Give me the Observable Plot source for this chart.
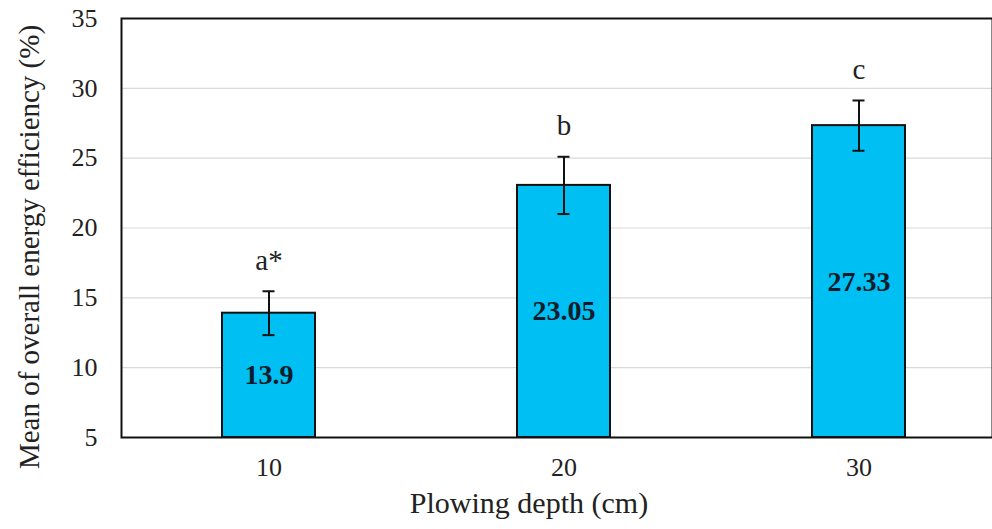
<!DOCTYPE html>
<html>
<head>
<meta charset="utf-8">
<script src="https://cdn.jsdelivr.net/npm/d3@7"></script>
<script src="https://cdn.jsdelivr.net/npm/@observablehq/plot@0.6"></script>
<style>
  html, body { margin: 0; padding: 0; background: #fff; }
  #chart svg { display: block; }
</style>
</head>
<body>
<div id="chart"></div>
<script>
const depths = ["10", "20", "30"];
const means = [13.9, 23.05, 27.33];
const errors = [1.57, 2.05, 1.8];
const letters = ["a*", "b", "c"];
const valueLabels = ["13.9", "23.05", "27.33"];
const yTicks = [5, 10, 15, 20, 25, 30, 35];
const yLabel = "Mean of overall energy efficiency (%)";
const xLabel = "Plowing depth (cm)";

const base = 5;
const data = depths.map((d, i) => ({
  depth: d,
  mean: means[i],
  lo: means[i] - errors[i],
  hi: means[i] + errors[i],
  letter: letters[i],
  label: valueLabels[i],
  mid: (base + means[i]) / 2,
  letterY: means[i] + errors[i] + 2.2
}));

const font = "'Liberation Serif', 'Times New Roman', serif";

const chart = Plot.plot({
  width: 992,
  height: 529,
  marginLeft: 121,
  marginRight: 0,
  marginTop: 18,
  marginBottom: 92,
  style: { fontFamily: font, fontSize: "26px", color: "#222", background: "#fff" },
  x: { type: "band", domain: depths, range: [121, 1006], paddingInner: 0.685, paddingOuter: 0.3425, label: null },
  y: { domain: [5, 35], ticks: yTicks, label: null },
  marks: [
    Plot.gridY(yTicks.filter(t => t > 5 && t < 35), { stroke: "#d9d9d9", strokeOpacity: 1, strokeWidth: 1.2 }),
    Plot.axisY({ ticks: yTicks, tickSize: 0, tickPadding: 24, fontSize: 26, label: null, tickFormat: d => String(d) }),
    Plot.axisX({ tickSize: 0, tickPadding: 20, fontSize: 26, label: null }),
    Plot.barY(data, { x: "depth", y1: base, y2: "mean", fill: "#00bff3", stroke: "#111", strokeWidth: 2 }),
    Plot.ruleX(data, { x: "depth", y1: "lo", y2: "hi", stroke: "#111", strokeWidth: 2 }),
    Plot.tickY(data, { x: "depth", y: "hi", stroke: "#111", strokeWidth: 2, insetLeft: 40.5, insetRight: 40.5 }),
    Plot.tickY(data, { x: "depth", y: "lo", stroke: "#111", strokeWidth: 2, insetLeft: 40.5, insetRight: 40.5 }),
    Plot.text(data, { x: "depth", y: "mid", text: "label", fontSize: 28, fontWeight: "bold", fill: "#0d1b2a" }),
    Plot.text(data, { x: "depth", y: "letterY", text: "letter", fontSize: 29, fill: "#222" }),
    Plot.frame({ stroke: "#111", strokeWidth: 2 }),
    Plot.text([yLabel], { frameAnchor: "left", textAnchor: "middle", lineAnchor: "middle", rotate: -90, dx: -92, dy: 19, fontSize: 29, fill: "#222" }),
    Plot.text([xLabel], { frameAnchor: "bottom", textAnchor: "middle", lineAnchor: "middle", dx: -28, dy: 66, fontSize: 30, fill: "#222" })
  ]
});

document.getElementById("chart").appendChild(chart);
</script>
</body>
</html>
